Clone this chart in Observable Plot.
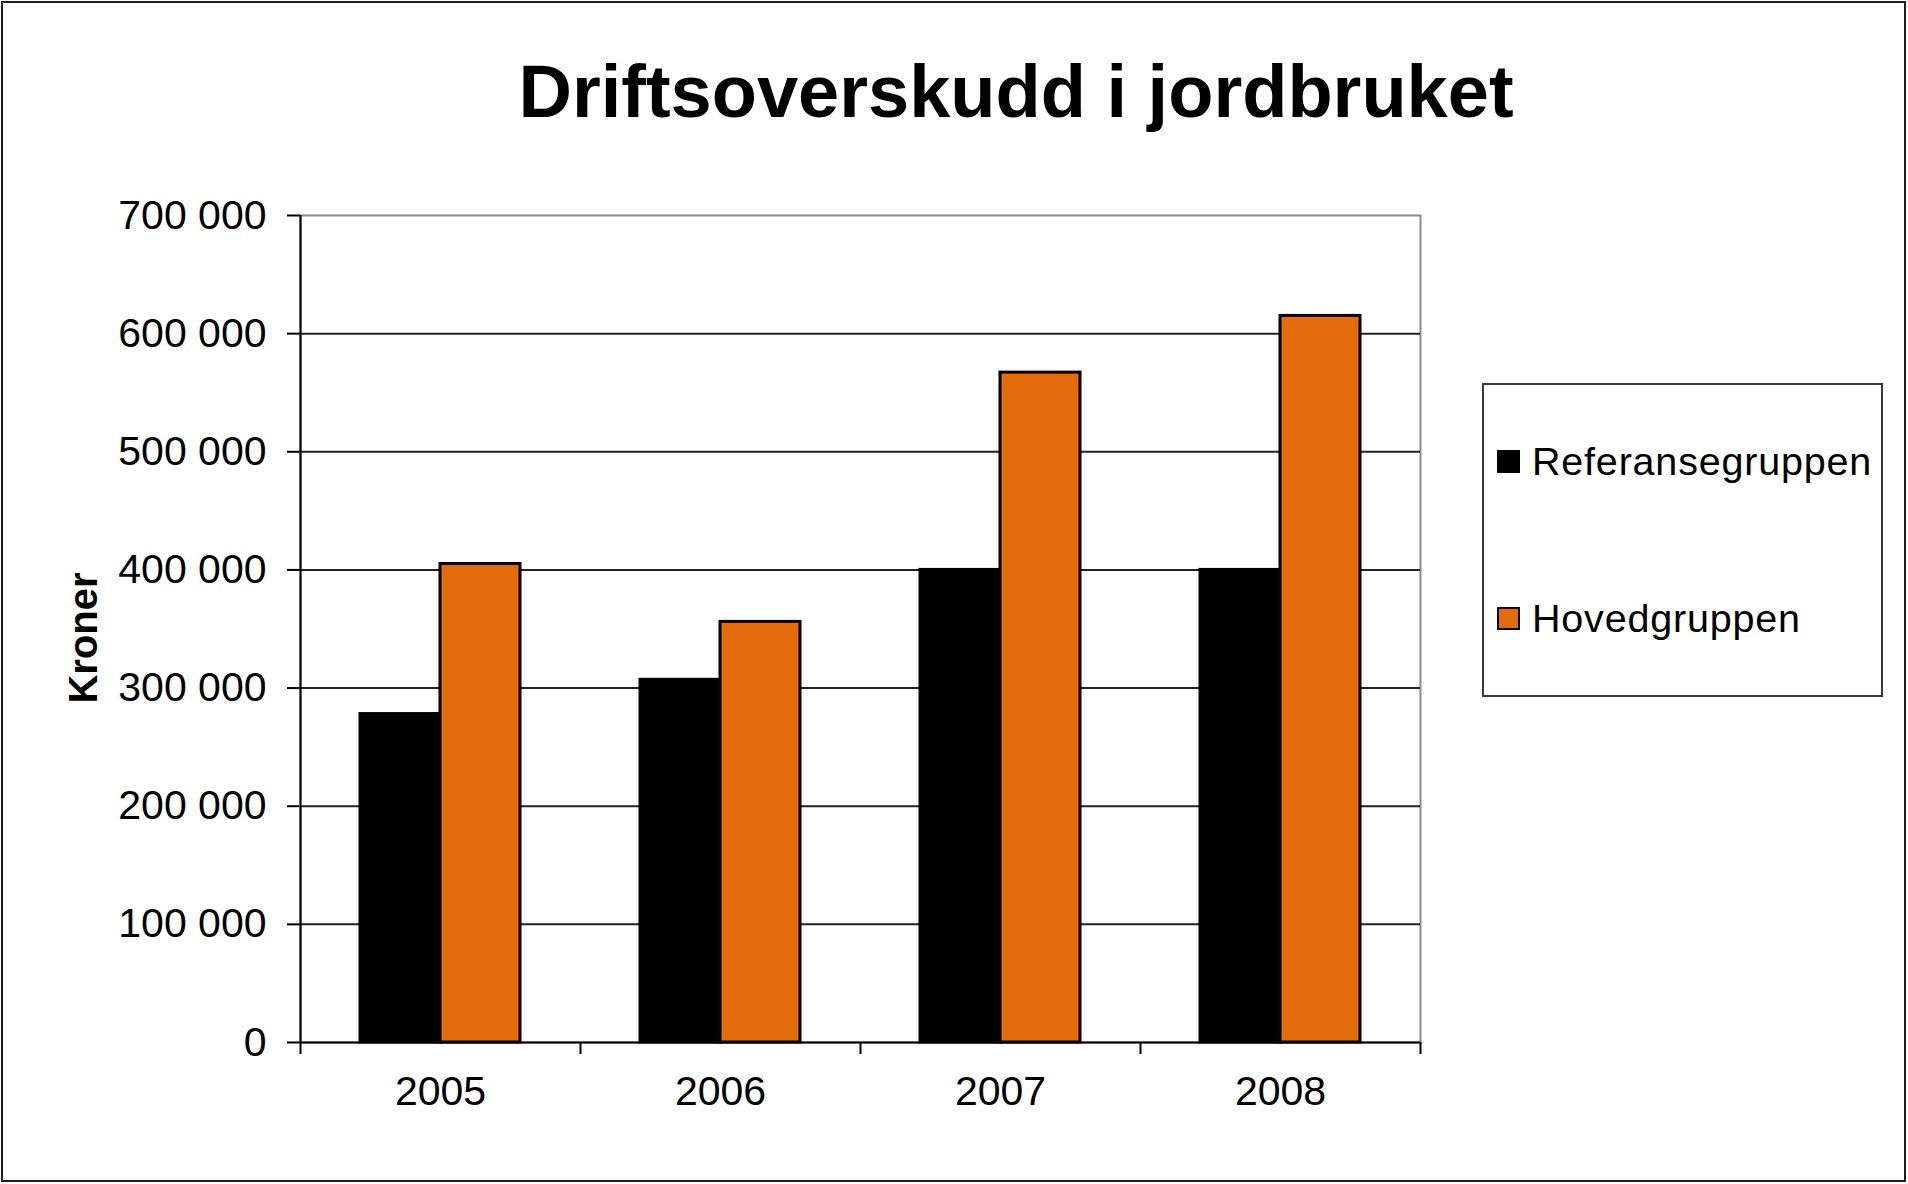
<!DOCTYPE html>
<html>
<head>
<meta charset="utf-8">
<script src="https://cdn.jsdelivr.net/npm/d3@7"></script>
<script src="https://cdn.jsdelivr.net/npm/@observablehq/plot@0.6"></script>
<style>
  html, body { margin: 0; padding: 0; background: #fff; }
  #wrap { position: relative; width: 1908px; height: 1184px; overflow: hidden; background: #fff;
          font-family: "Liberation Sans", Arial, sans-serif; color: #000; }
  #title { position: absolute; left: 416px; top: 54px; width: 1200px; text-align: center;
           font-size: 74px; line-height: 75px; font-weight: bold; white-space: nowrap; }
  #chart { position: absolute; left: 0; top: 150px; }
  #legend { position: absolute; left: 1482px; top: 383px; width: 401px; height: 314px; box-sizing: border-box;
            border: 2px solid #3a3a3a; background: #fff; }
  .row { position: absolute; left: 13px; height: 40px; display: flex; align-items: center; white-space: nowrap; }
  .sw { width: 23px; height: 23px; box-sizing: border-box; border: 2px solid #000; margin-right: 12px; }
  .lt { font-size: 39.5px; line-height: 40px; letter-spacing: 0.8px; }
  #frameBorder { position: absolute; left: 1px; top: 1px; width: 1905px; height: 1181px; box-sizing: border-box;
                 border: 2px solid #1e1e1e; pointer-events: none; }
  #chart svg g[aria-label="y-axis tick"] path, #chart svg g[aria-label="y-axis"] .tick line { stroke-width: 2px; }
</style>
</head>
<body>
<div id="wrap">
  <div id="title"></div>
  <div id="chart"></div>
  <div id="legend"></div>
  <div id="frameBorder"></div>
</div>
<script>
// ---- data ----
const chartTitle = "Driftsoverskudd i jordbruket";
const yLabel = "Kroner";
const years = ["2005", "2006", "2007", "2008"];
const series = ["Referansegruppen", "Hovedgruppen"];
const referanse = [278000, 307000, 400000, 400000];
const hoved = [405000, 356000, 567000, 615000];
const yTicks = [0, 100000, 200000, 300000, 400000, 500000, 600000, 700000];
const colors = ["#000000", "#E46C0A"];

// ---- layout ----
const W = 1908, H = 1034, ML = 300, MR = 488, MT = 65, MB = 142;
const bw = (W - ML - MR) / years.length;   // band width
const barW = bw / 3.5;                       // Excel gap width 150%
const outer = barW * 0.75;

const data = years.flatMap((y, i) => [
  {year: y, series: series[0], value: referanse[i]},
  {year: y, series: series[1], value: hoved[i]}
]);

const fmt = d3.formatLocale({decimal: ",", thousands: " ", grouping: [3], currency: ["", ""]}).format(",");

document.getElementById("title").textContent = chartTitle;

const plot = Plot.plot({
  width: W, height: H,
  marginLeft: ML, marginRight: MR, marginTop: MT, marginBottom: MB,
  style: "font-family:'Liberation Sans',Arial,sans-serif;font-size:41px;color:#000;background:transparent;overflow:visible;",
  x: {domain: years, padding: 0, tickSize: 0, tickPadding: 33, label: null},
  y: {domain: [0, 700000], ticks: yTicks, tickFormat: fmt, tickSize: 13, tickPadding: 21, label: null},
  color: {domain: series, range: colors},
  marks: [
    Plot.frame({stroke: "#8a8a8a", strokeWidth: 2}),
    Plot.ruleY(yTicks.slice(1, -1), {y: d => d, stroke: "#222", strokeWidth: 2}),
    Plot.barY(data.filter(d => d.series === series[0]), {
      x: "year", y: "value", fill: "series", stroke: "#000", strokeWidth: 3,
      insetLeft: outer, insetRight: bw - outer - barW
    }),
    Plot.barY(data.filter(d => d.series === series[1]), {
      x: "year", y: "value", fill: "series", stroke: "#000", strokeWidth: 3,
      insetLeft: outer + barW, insetRight: outer
    }),
    Plot.ruleY([0], {y: d => d, stroke: "#000", strokeWidth: 2}),
    Plot.ruleX([years[0]], {x: d => d, dx: -bw / 2, stroke: "#000", strokeWidth: 2}),
    Plot.ruleX(years, {x: d => d, y1: 0, y2: 0, dx: -bw / 2, insetBottom: -12, stroke: "#000", strokeWidth: 2}),
    Plot.ruleX([years[years.length - 1]], {x: d => d, y1: 0, y2: 0, dx: bw / 2, insetBottom: -12, stroke: "#000", strokeWidth: 2}),
    Plot.text([yLabel], {text: d => d, frameAnchor: "left", rotate: -90, dx: -216, dy: 9,
      fontSize: 40, fontWeight: "bold", textAnchor: "middle", fill: "#000"})
  ]
});
document.getElementById("chart").appendChild(plot);

// ---- legend ----
const legend = document.getElementById("legend");
const rowTops = [56, 213];
series.forEach((s, i) => {
  const row = document.createElement("div");
  row.className = "row";
  row.style.top = rowTops[i] + "px";
  const sw = document.createElement("div");
  sw.className = "sw";
  sw.style.background = colors[i];
  const t = document.createElement("span");
  t.className = "lt";
  t.textContent = s;
  row.appendChild(sw); row.appendChild(t);
  legend.appendChild(row);
});
</script>
</body>
</html>
